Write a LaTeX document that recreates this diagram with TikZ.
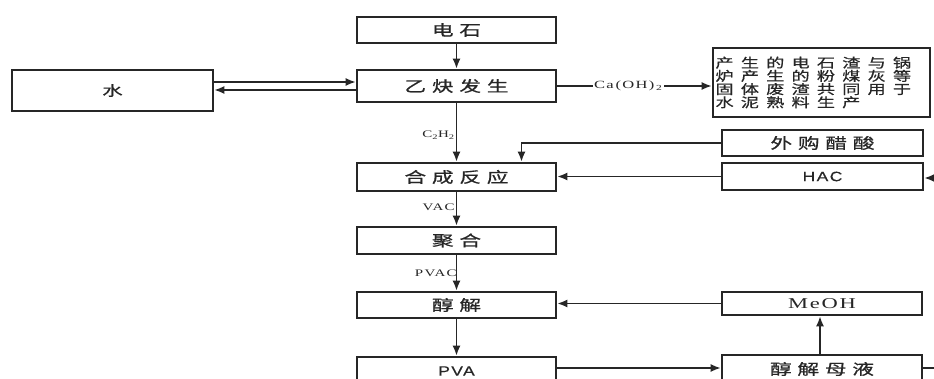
\documentclass[tikz,border=0pt]{standalone}
\usepackage{fontspec}
\usepackage{tikz}
\usetikzlibrary{arrows.meta,positioning}
\setmainfont{Liberation Serif}
\newfontfamily\cjk[FakeStretch=1.45,LetterSpace=38,FakeBold=0.8]{Noto Sans CJK SC}
\newfontfamily\cjkw[FakeStretch=1.4,LetterSpace=55,FakeBold=0.6]{Noto Sans CJK SC}
\newfontfamily\lbfont[FakeStretch=1.5,LetterSpace=12]{Liberation Serif}
\newfontfamily\sansfont[FakeStretch=1.3,LetterSpace=10,FakeBold=0.6]{Liberation Sans}
\definecolor{inkcol}{HTML}{262626}

\begin{document}
\begin{tikzpicture}[x=1pt,y=-1pt,
  box/.style={rectangle,draw=inkcol,line width=2.6pt,minimum width=199pt,inner sep=0pt,text=inkcol,font=\cjk\fontsize{15}{15}\selectfont},
  conn/.style={draw=inkcol,line width=1.7pt,-{Latex[length=10pt,width=8pt]}},
  line/.style={draw=inkcol,line width=1.7pt},
  lbl/.style={font=\lbfont\fontsize{10}{10}\selectfont,text=inkcol,inner sep=1pt}
]
\useasboundingbox (0,0) rectangle (934,379);
\clip (0,0) rectangle (934,379);
% main chain
\node[box,minimum height=26pt] (stone) at (456.5,30) {电石};
\node[box,minimum height=32pt] (gen) at (456.5,86) {乙炔发生};
\node[box,minimum height=28pt] (syn) at (456.5,177) {合成反应};
\node[box,minimum height=27pt] (poly) at (456.5,240.5) {聚合};
\node[box,minimum height=26pt] (alc) at (456.5,305) {醇解};
\node[box,minimum height=28pt,font=\sansfont\fontsize{13.5}{13.5}\selectfont] (pva) at (456.5,371) {PVA};
% side boxes
\node[box,minimum width=201pt,minimum height=41pt,font=\cjk\fontsize{14}{14}\selectfont] (water) at (112.5,90.5) {水};
\node[box,minimum width=217pt,minimum height=69pt,align=left,text width=212pt,inner sep=2pt,
  font=\cjkw\fontsize{13}{13.2}\selectfont] (waste) at (821.5,82.5)
  {产生的电石渣与锅\\炉产生的粉煤灰等\\固体废渣共同用于\\水泥熟料生产};
\node[box,minimum width=201pt,minimum height=26pt] (acid) at (822.5,143) {外购醋酸};
\node[box,minimum width=201pt,minimum height=27pt,font=\sansfont\fontsize{13.5}{13.5}\selectfont] (hac) at (822.5,176.5) {HAC};
\node[box,minimum width=200pt,minimum height=23pt,font=\lbfont\fontsize{15}{15}\selectfont] (meoh) at (822,303.5) {MeOH};
\node[box,minimum width=200pt,minimum height=28pt] (liquor) at (822,369) {醇解母液};
\coordinate (hacin) at (940,178);
\coordinate (liqout) at (940,368);
% connectors
\draw[conn] (stone) -- (gen);
\path (gen.west) ++(0,-4) coordinate (wu) (gen.west) ++(0,4) coordinate (wd);
\draw[conn] (wu -| water.east) -- (wu);
\draw[conn] (wd) -- (wd -| water.east);
\draw[conn] (gen.east) -- node[lbl,fill=white,pos=0.46,font=\lbfont\fontsize{11}{11}\selectfont]{Ca\,(OH)\,\textsubscript{2}} (gen.east -| waste.west);
\draw[conn] (gen) -- node[lbl,left,pos=0.55]{C\textsubscript{2}H\textsubscript{2}} (syn);
\draw[conn] (acid.west) -| ([xshift=65pt]syn.north);
\draw[conn] (hac.west) -- (hac.west -| syn.east);
\draw[conn] (hacin) -- (hac.east |- hacin);
\draw[conn] (syn) -- node[lbl,left,pos=0.45]{VAC} (poly);
\draw[conn] (poly) -- node[lbl,left,pos=0.5,xshift=2pt]{PVAC} (alc);
\draw[conn] (meoh.west) -- (meoh.west -| alc.east);
\draw[conn] (alc) -- (pva);
\draw[conn] (pva.east |- liqout) -- (liquor.west |- liqout);
\draw[conn] ([xshift=-2pt]liquor.north) -- ([xshift=-2pt]meoh.south);
\draw[line] (liquor.east |- liqout) -- (liqout);
\end{tikzpicture}
\end{document}
